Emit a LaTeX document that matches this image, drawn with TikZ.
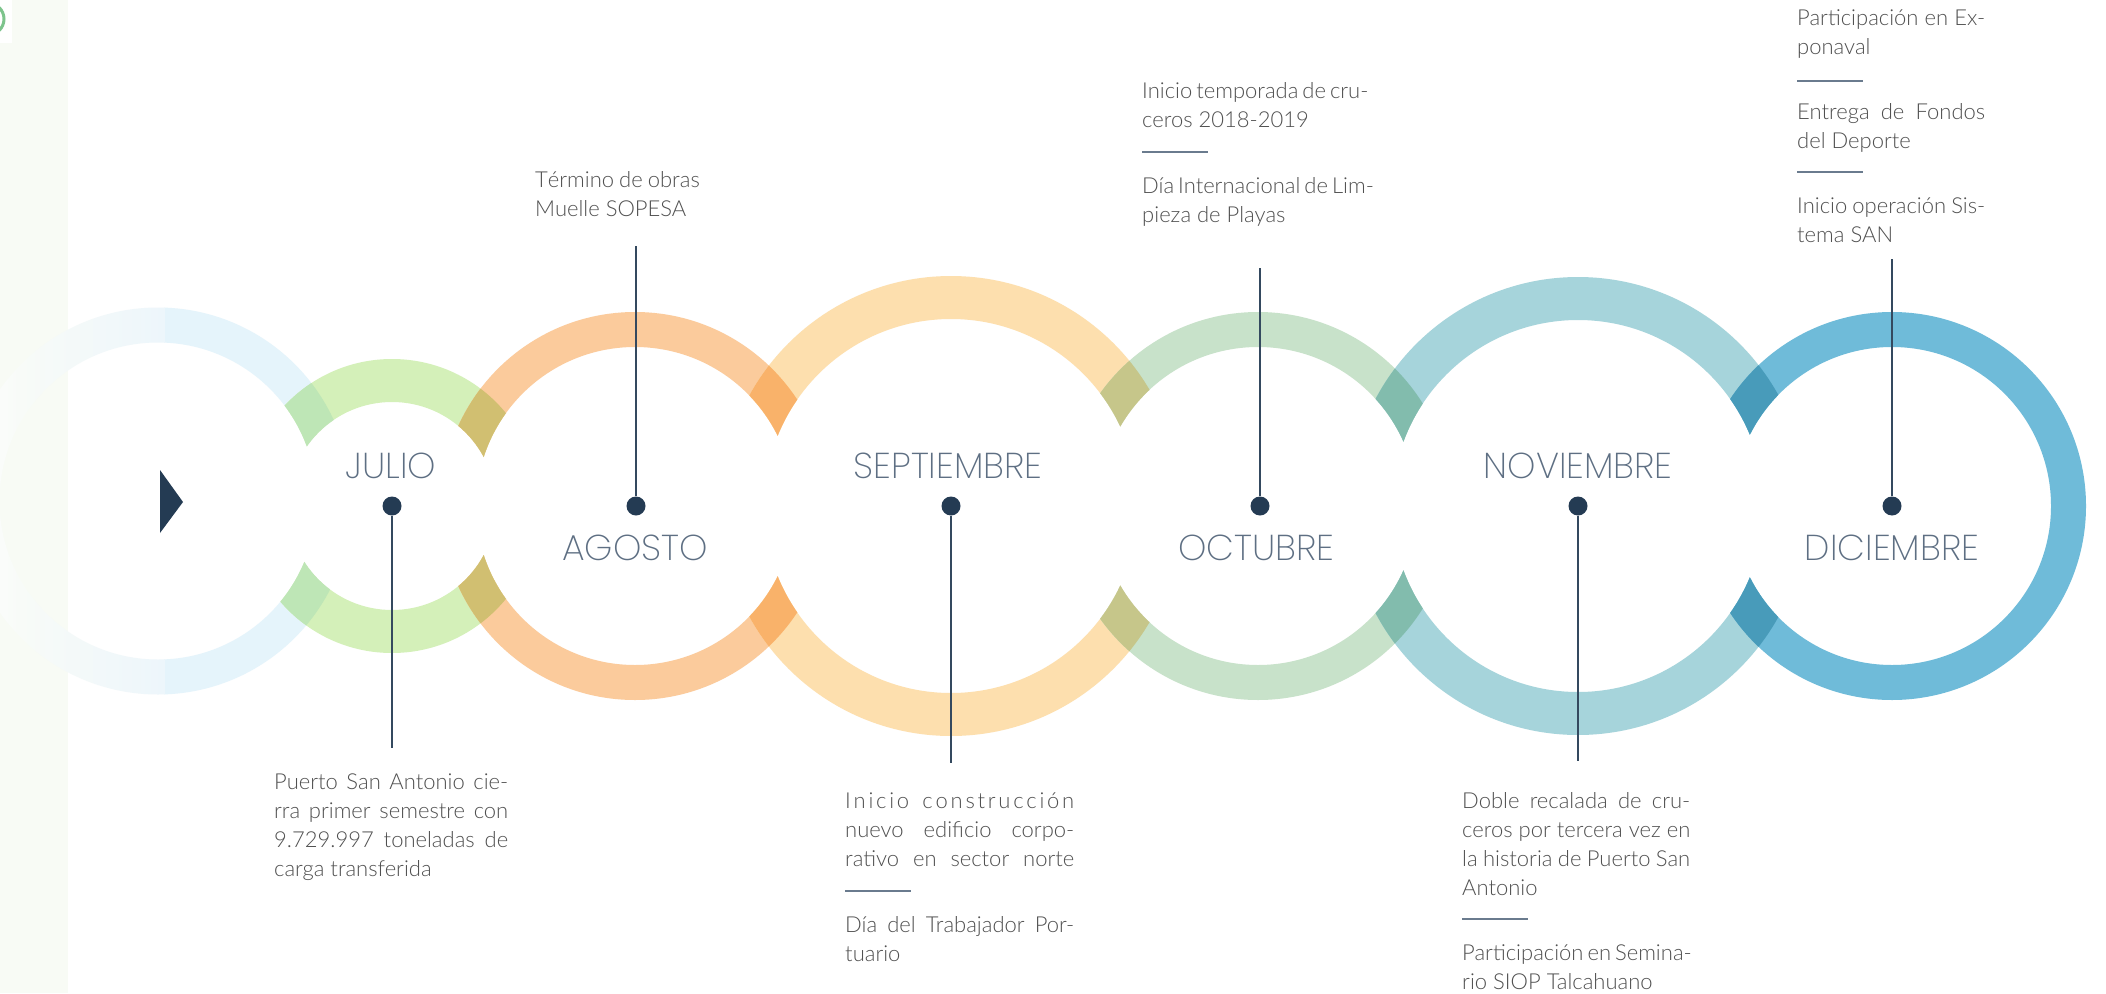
\documentclass[tikz,border=0pt]{standalone}
\usepackage{fontspec}
\IfFontExistsTF{Lato Light}{\setmainfont{Lato Light}}{\setmainfont{Lato}}
\IfFontExistsTF{Poppins ExtraLight}{\newfontfamily\monthfont{Poppins ExtraLight}}{%
 \IfFontExistsTF{Poppins Thin}{\newfontfamily\monthfont{Poppins Thin}}{%
  \IfFontExistsTF{Lato Hairline}{\newfontfamily\monthfont{Lato Hairline}}{%
   \IfFontExistsTF{Poppins Light}{\newfontfamily\monthfont{Poppins Light}}{\newfontfamily\monthfont{Poppins}}}}}
\definecolor{cL}{HTML}{E5F4FB}
\definecolor{cLa}{HTML}{F8FBF8}
\definecolor{cLb}{HTML}{EDF6FB}
\definecolor{cJ}{HTML}{D4F0B9}
\definecolor{cA}{HTML}{FBCB9C}
\definecolor{cS}{HTML}{FDDFAE}
\definecolor{cO}{HTML}{C8E2CA}
\definecolor{cN}{HTML}{A6D4DB}
\definecolor{cD}{HTML}{6FBBD9}
\definecolor{oLJ}{HTML}{BEE6B6}
\definecolor{oJA}{HTML}{D1BF71}
\definecolor{oAS}{HTML}{F9B26A}
\definecolor{oSO}{HTML}{C6C68A}
\definecolor{oON}{HTML}{82BCAD}
\definecolor{oND}{HTML}{489BBA}
\definecolor{navy}{HTML}{243B53}
\definecolor{lineC}{HTML}{34495F}
\definecolor{sepC}{HTML}{6A7B8E}
\definecolor{monthC}{HTML}{5E6F83}
\definecolor{textC}{HTML}{505050}
\definecolor{stripC}{HTML}{F8FBF5}
\definecolor{greenC}{HTML}{7DC48C}
% ring: center, r_in, r_out, colour, prev center, prev r_in, next center, next r_in
\newcommand\ringpart[8]{%
\begin{scope}[even odd rule]
\clip (-100,-100) rectangle (2300,1200) (#5) circle (#6pt);
\clip (-100,-100) rectangle (2300,1200) (#7) circle (#8pt);
\fill[#4] (#1) circle (#3pt) (#1) circle (#2pt);
\end{scope}}
% overlap: c1 rin1 rout1 c2 rin2 rout2 colour
\newcommand\overlap[7]{%
\begin{scope}[even odd rule]
\clip (#1) circle (#3pt);
\clip (#4) circle (#6pt);
\clip (-100,-100) rectangle (2300,1200) (#1) circle (#2pt);
\clip (-100,-100) rectangle (2300,1200) (#4) circle (#5pt);
\fill[#7] (-100,-100) rectangle (2300,1200);
\end{scope}}
\newcommand\blk[1]{\vtop{\baselineskip=29pt\lineskiplimit=-100pt\lineskip=0pt #1}}
\newcommand\jl[2]{\hbox to #1pt{#2}}
\newcommand\lsp{\hskip 0pt plus 1fil\relax}
\newcommand\wsp{\hskip 5pt plus 3fil\relax}
\begin{document}
\begin{tikzpicture}[x=1pt,y=-1pt,
  evdot/.style={circle, fill=navy, minimum size=19pt, inner sep=0pt},
  conn/.style={draw=lineC, line width=1.4pt},
  month/.style={font=\monthfont\fontsize{36}{36}\selectfont, text=monthC, inner sep=0pt, anchor=base},
  evt/.style={font=\fontsize{22}{29}\selectfont, text=textC, inner sep=0pt, anchor=base west},
  sepline/.style={draw=sepC, line width=1.5pt}]
\useasboundingbox (0,0) rectangle (2106,993);
\fill[white] (0,0) rectangle (2106,993);
\fill[stripC] (0,0) rectangle (68,993);
\fill[white] (0,0) rectangle (12,43);
\draw[greenC, line width=3pt] (-12,19) circle (16pt);

% centres
\coordinate (L) at (158,501);
\coordinate (J) at (392,506);
\coordinate (A) at (635,506);
\coordinate (S) at (951,506);
\coordinate (O) at (1258,506);
\coordinate (N) at (1578,506);
\coordinate (D) at (1892,506);
\coordinate (far) at (5000,5000);

% faded first ring
\begin{scope}[even odd rule]
\clip (-100,-100) rectangle (2300,1200) (J) circle (104pt);
\clip (L) circle (193.5pt) (L) circle (158.5pt);
\fill[cL] (164,250) rectangle (400,760);
\shade[left color=white, right color=cLa] (-40,250) rectangle (20,760);
\shade[left color=cLa, right color=cLb] (20,250) rectangle (164.5,760);
\end{scope}

\ringpart{J}{104}{147}{cJ}{L}{158.5}{A}{159}
\ringpart{A}{159}{194}{cA}{J}{104}{S}{187}
\ringpart{S}{187}{230}{cS}{A}{159}{O}{159}
\ringpart{O}{159}{194}{cO}{S}{187}{N}{186}
\ringpart{N}{186}{229}{cN}{O}{159}{D}{159}
\ringpart{D}{159}{194}{cD}{N}{186}{far}{1}

\overlap{L}{158.5}{193.5}{J}{104}{147}{oLJ}
\overlap{J}{104}{147}{A}{159}{194}{oJA}
\overlap{A}{159}{194}{S}{187}{230}{oAS}
\overlap{S}{187}{230}{O}{159}{194}{oSO}
\overlap{O}{159}{194}{N}{186}{229}{oON}
\overlap{N}{186}{229}{D}{159}{194}{oND}

% start marker
\fill[navy] (160,470) -- (160,533) -- (183,502) -- cycle;

% dots
\node[evdot] (dJ) at (392,506) {};
\node[evdot] (dA) at (636,506) {};
\node[evdot] (dS) at (951,506) {};
\node[evdot] (dO) at (1260,506) {};
\node[evdot] (dN) at (1578,506) {};
\node[evdot] (dD) at (1892,506) {};

% connector ends
\coordinate (eJ) at (392,748);
\coordinate (eA) at (636,246);
\coordinate (eS) at (951,763);
\coordinate (eO) at (1260,268);
\coordinate (eN) at (1578,761);
\coordinate (eD) at (1892,259);
\draw[conn] (dJ) -- (eJ);
\draw[conn] (dA) -- (eA);
\draw[conn] (dS) -- (eS);
\draw[conn] (dO) -- (eO);
\draw[conn] (dN) -- (eN);
\draw[conn] (dD) -- (eD);

% month labels
\node[month] (mJ) at (391,478) {JULIO};
\node[month] (mA) at (635,560) {AGOSTO};
\node[month] (mS) at (948,478) {SEPTIEMBRE};
\node[month] (mO) at (1256,560) {OCTUBRE};
\node[month] (mN) at (1578,478) {NOVIEMBRE};
\node[month] (mD) at (1892,560) {DICIEMBRE};

% event texts
\node[evt] (tJ) at (274,789) {\blk{%
 \jl{234}{Puerto San Antonio cie-}
 \jl{234}{rra primer semestre con}
 \jl{234}{9.729.997 toneladas de}
 \hbox{carga transferida}}};

\node[evt] (tA) at (535,187) {\blk{%
 \jl{162}{T\lsp é\lsp r\lsp m\lsp i\lsp n\lsp o\wsp d\lsp e\wsp o\lsp b\lsp r\lsp a\lsp s}
 \hbox{Muelle SOPESA}}};

\node[evt] (tS1) at (845,808) {\blk{%
 \jl{229}{I\lsp n\lsp i\lsp c\lsp i\lsp o\wsp c\lsp o\lsp n\lsp s\lsp t\lsp r\lsp u\lsp c\lsp c\lsp i\lsp ó\lsp n}
 \jl{229}{nuevo edificio corpo-}
 \jl{229}{rativo en sector norte}}};
\draw[sepline] (845,891) -- (911,891);
\node[evt] (tS2) at (845,932) {\blk{%
 \jl{229}{Día del Trabajador Por-}
 \hbox{tuario}}};

\node[evt] (tO1) at (1142,98) {\blk{%
 \jl{225}{Inicio temporada de cru-}
 \hbox{ceros 2018-2019}}};
\draw[sepline] (1142,152) -- (1208,152);
\node[evt] (tO2) at (1142,193) {\blk{%
 \jl{225}{Día Internacional de Lim-}
 \hbox{pieza de Playas}}};

\node[evt] (tN1) at (1462,808) {\blk{%
 \jl{228}{Doble recalada de cru-}
 \jl{228}{ceros por tercera vez en}
 \jl{228}{la historia de Puerto San}
 \hbox{Antonio}}};
\draw[sepline] (1462,919) -- (1528,919);
\node[evt] (tN2) at (1462,960) {\blk{%
 \jl{228}{Participación en Semina-}
 \hbox{rio SIOP Talcahuano}}};

\node[evt] (tD1) at (1797,25) {\blk{%
 \jl{188}{Participación en Ex-}
 \hbox{ponaval}}};
\draw[sepline] (1797,81) -- (1863,81);
\node[evt] (tD2) at (1797,119) {\blk{%
 \jl{188}{Entrega de Fondos}
 \hbox{del Deporte}}};
\draw[sepline] (1797,172) -- (1863,172);
\node[evt] (tD3) at (1797,213) {\blk{%
 \jl{188}{Inicio operación Sis-}
 \hbox{tema SAN}}};
\end{tikzpicture}
\end{document}
